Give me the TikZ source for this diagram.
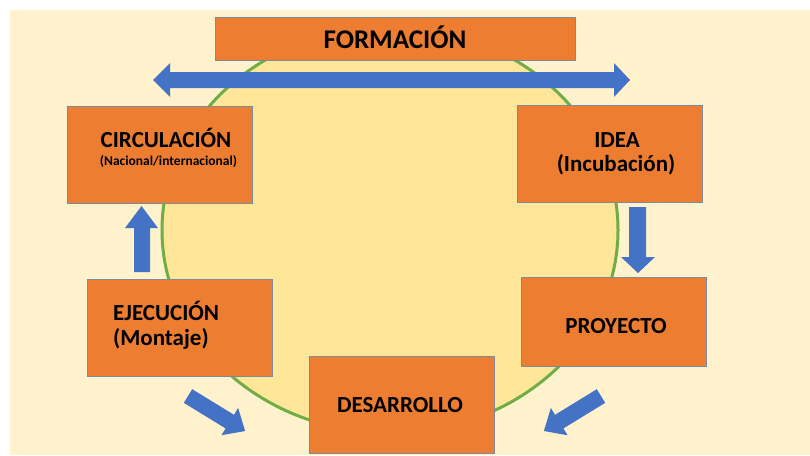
\documentclass[tikz,border=0pt]{standalone}
\usepackage{fontspec}
\setmainfont{Carlito}
\definecolor{bgcream}{HTML}{FFF2CC}
\definecolor{ellfill}{HTML}{FFE699}
\definecolor{ellline}{HTML}{70AD47}
\definecolor{boxfill}{HTML}{ED7D31}
\definecolor{boxline}{HTML}{7F8A99}
\definecolor{arrowblue}{HTML}{4472C4}
\begin{document}
\begin{tikzpicture}[x=1pt,y=-1pt,
  box/.style={draw=boxline, line width=0.8pt, fill=boxfill, rectangle, inner sep=0pt, minimum width=185pt, minimum height=97pt},
  lbl/.style={inner sep=0pt, font=\bfseries\fontsize{23}{27}\selectfont, anchor=base},
  sublbl/.style={inner sep=0pt, font=\bfseries\fontsize{13.5}{16}\selectfont, anchor=base},
  blockarrow/.style={fill=arrowblue}]
\useasboundingbox (0,0) rectangle (810,455);
\fill[white] (0,0) rectangle (810,455);
\fill[bgcream] (10,10) rectangle (810,455);
% central ellipse
\draw[ellline, line width=3pt, fill=ellfill] (390,230) ellipse [x radius=228, y radius=203];
% boxes
\node[box, minimum width=360pt, minimum height=43pt] (formacion) at (395,38.5) {};
\node[box] (circulacion) at (159.5,154.5) {};
\node[box] (idea) at (609.5,153.5) {};
\node[box] (ejecucion) at (179.5,327.5) {};
\node[box, minimum height=89pt] (proyecto) at (613.5,321.5) {};
\node[box] (desarrollo) at (401.5,404.5) {};
% double arrow
\fill[blockarrow] (153,80)--(170,63)--(170,72)--(614,72)--(614,63)--(630,80)--(614,97)--(614,88)--(170,88)--(170,97)--cycle;
% up arrow
\fill[blockarrow] (134,272)--(134,228)--(125,228)--(141.5,206)--(158,228)--(150,228)--(150,272)--cycle;
% down arrow
\fill[blockarrow] (629,207)--(646,207)--(646,257)--(655,257)--(638,273)--(621,257)--(629,257)--cycle;
% diagonal arrows
\begin{scope}[shift={(188,396)}, rotate=-31.5]
\fill[blockarrow] (0,-8)--(49,-8)--(49,-16)--(67,0)--(49,16)--(49,8)--(0,8)--cycle;
\end{scope}
\begin{scope}[shift={(601,396)}, rotate=-148.5]
\fill[blockarrow] (0,-8)--(49,-8)--(49,-16)--(67,0)--(49,16)--(49,8)--(0,8)--cycle;
\end{scope}
% texts
\node[lbl, font=\bfseries\fontsize{27}{32}\selectfont] (tformacion) at (395,48) {FORMACIÓN};
\node[lbl] (tcirc) at (166,147) {CIRCULACIÓN};
\node[sublbl] (tcircsub) at (168.5,165) {(Nacional/internacional)};
\node[lbl] (tidea) at (617,147) {IDEA};
\node[lbl] (tideasub) at (616,171) {(Incubación)};
\node[lbl, anchor=base west] (tejec) at (113,320) {EJECUCIÓN};
\node[lbl, anchor=base west] (tejecsub) at (113,345) {(Montaje)};
\node[lbl] (tproy) at (616,333) {PROYECTO};
\node[lbl] (tdes) at (400,412) {DESARROLLO};
\end{tikzpicture}
\end{document}
